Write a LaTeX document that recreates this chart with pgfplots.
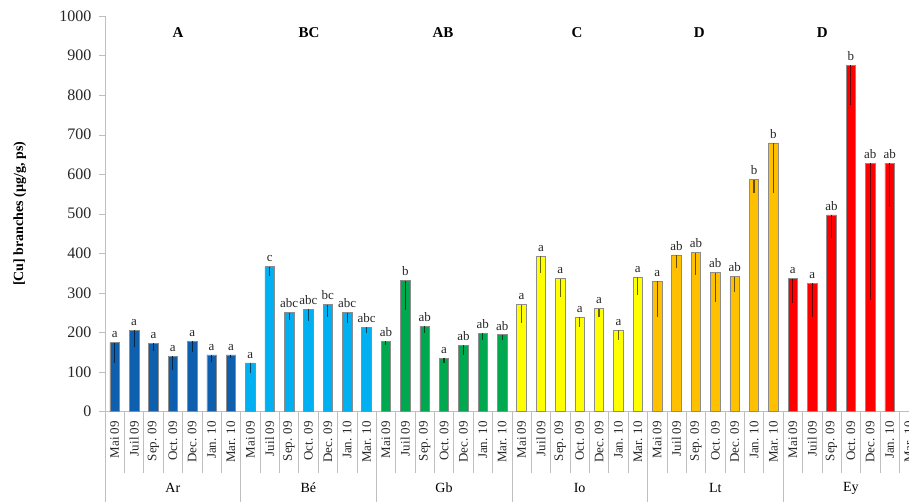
\documentclass[border=0pt]{standalone}
\usepackage{fontspec}
\setmainfont{Liberation Serif}
\usepackage{pgfplots}
\usepackage{pgfplotstable}
\pgfplotsset{compat=1.18}

\definecolor{arcol}{HTML}{0E5FAE}
\definecolor{becol}{HTML}{00B0F0}
\definecolor{gbcol}{HTML}{00A850}
\definecolor{iocol}{HTML}{FFFF00}
\definecolor{ltcol}{HTML}{FFC000}
\definecolor{eycol}{HTML}{FF0000}

\pgfplotstableread{
x y e lab
0 174 52 a
1 206 42 a
2 173 21 a
3 140 35 a
4 178 27 a
5 143 17 a
6 143 8 a
}\Ar
\pgfplotstableread{
x y e lab
7 123 25 a
8 366 24 c
9 250 19 abc
10 259 31 abc
11 270 30 bc
12 250 27 abc
13 213 15 abc
}\Be
\pgfplotstableread{
x y e lab
14 178 10 ab
15 331 74 b
16 215 17 ab
17 135 13 a
18 167 24 ab
19 198 17 ab
20 194 14 ab
}\Gb
\pgfplotstableread{
x y e lab
21 270 46 a
22 392 42 a
23 336 46 a
24 238 25 a
25 260 20 a
26 205 24 a
27 340 46 a
}\Io
\pgfplotstableread{
x y e lab
28 329 89 a
29 396 34 ab
30 402 57 ab
31 351 73 ab
32 341 38 ab
33 586 34 b
34 679 127 b
}\Lt
\pgfplotstableread{
x y e lab
35 336 62 a
36 324 84 a
37 497 59 ab
38 875 99 b
39 628 346 ab
40 628 110 ab
}\Ey

\pgfplotsset{
  mybar/.style={ybar, bar width=9.5pt, bar shift=0pt, fill=#1, draw=black!45, line width=0.6pt,
    nodes near coords, point meta=explicit symbolic,
    every node near coord/.append style={font=\fontsize{13}{13}\selectfont, text=black!85, yshift=1pt},
    error bars/.cd, y dir=minus, y explicit, error mark=none,
    error bar style={draw=black!60!#1, line width=1.1pt}},
}

\begin{document}
\begin{tikzpicture}
\begin{axis}[
  at={(0,0)}, anchor=south west,
  scale only axis, width=804pt, height=395.5pt,
  xmin=-0.5, xmax=41, ymin=0, ymax=1000,
  clip=false,
  axis x line=bottom, axis y line=left,
  axis line style={draw=black!25, -},
  ytick={0,100,...,1000},
  tick align=outside, major tick length=6pt,
  ytick style={draw=black!25},
  xtick style={draw=none},
  yticklabel style={font=\fontsize{16}{16}\selectfont, text=black!85, xshift=-4pt},
  /pgf/number format/assume math mode=true, /pgf/number format/1000 sep={},
  xtick={0,...,41},
  xticklabels={Mai 09,Juil 09,Sep. 09,Oct. 09,Dec. 09,Jan. 10,Mar. 10,
               Mai 09,Juil 09,Sep. 09,Oct. 09,Dec. 09,Jan. 10,Mar. 10,
               Mai 09,Juil 09,Sep. 09,Oct. 09,Dec. 09,Jan. 10,Mar. 10,
               Mai 09,Juil 09,Sep. 09,Oct. 09,Dec. 09,Jan. 10,Mar. 10,
               Mai 09,Juil 09,Sep. 09,Oct. 09,Dec. 09,Jan. 10,Mar. 10,
               Mai 09,Juil 09,Sep. 09,Oct. 09,Dec. 09,Jan. 10,Mar. 10},
  xticklabel style={rotate=90, anchor=east, font=\fontsize{13}{13}\selectfont, text=black!85},
  ylabel={\textbf{[Cu] branches (µg/g, ps)}},
  ylabel style={at={(axis description cs:-0.106,0.5)}, anchor=center, font=\fontsize{14}{14}\selectfont},
]
\addplot[mybar=arcol] table[x=x, y=y, y error=e, meta=lab] {\Ar};
\addplot[mybar=becol] table[x=x, y=y, y error=e, meta=lab] {\Be};
\addplot[mybar=gbcol] table[x=x, y=y, y error=e, meta=lab] {\Gb};
\addplot[mybar=iocol] table[x=x, y=y, y error=e, meta=lab] {\Io};
\addplot[mybar=ltcol] table[x=x, y=y, y error=e, meta=lab] {\Lt};
\addplot[mybar=eycol] table[x=x, y=y, y error=e, meta=lab] {\Ey};

\pgfplotsinvokeforeach{0.5,1.5,2.5,3.5,4.5,5.5,7.5,8.5,9.5,10.5,11.5,12.5,14.5,15.5,16.5,17.5,18.5,19.5,21.5,22.5,23.5,24.5,25.5,26.5,28.5,29.5,30.5,31.5,32.5,33.5,35.5,36.5,37.5,38.5,39.5,40.5}{
  \draw[black!25, line width=0.6pt] (axis cs:#1,0) -- ([yshift=-61pt]axis cs:#1,0);
}
\pgfplotsinvokeforeach{-0.5,6.5,13.5,20.5,27.5,34.5}{
  \draw[black!25, line width=0.6pt] (axis cs:#1,0) -- ([yshift=-90pt]axis cs:#1,0);
}
\node[font=\fontsize{14}{14}\selectfont] at ([yshift=-76.5pt]axis cs:3,0) {Ar};
\node[font=\fontsize{14}{14}\selectfont] at ([yshift=-76.5pt]axis cs:10,0) {Bé};
\node[font=\fontsize{14}{14}\selectfont] at ([yshift=-76.5pt]axis cs:17,0) {Gb};
\node[font=\fontsize{14}{14}\selectfont] at ([yshift=-76.5pt]axis cs:24,0) {Io};
\node[font=\fontsize{14}{14}\selectfont] at ([yshift=-76.5pt]axis cs:31,0) {Lt};
\node[font=\fontsize{14}{14}\selectfont] at ([yshift=-76.5pt]axis cs:38,0) {Ey};

\node[font=\bfseries\fontsize{15}{15}\selectfont] at (axis cs:3.27,958) {A};
\node[font=\bfseries\fontsize{15}{15}\selectfont] at (axis cs:10.03,958) {BC};
\node[font=\bfseries\fontsize{15}{15}\selectfont] at (axis cs:16.95,958) {AB};
\node[font=\bfseries\fontsize{15}{15}\selectfont] at (axis cs:23.87,958) {C};
\node[font=\bfseries\fontsize{15}{15}\selectfont] at (axis cs:30.17,958) {D};
\node[font=\bfseries\fontsize{15}{15}\selectfont] at (axis cs:36.52,958) {D};
\end{axis}
\pgfresetboundingbox
\path[use as bounding box] (-105pt,-89.5pt) rectangle (804pt,411.5pt);
\end{tikzpicture}
\end{document}
